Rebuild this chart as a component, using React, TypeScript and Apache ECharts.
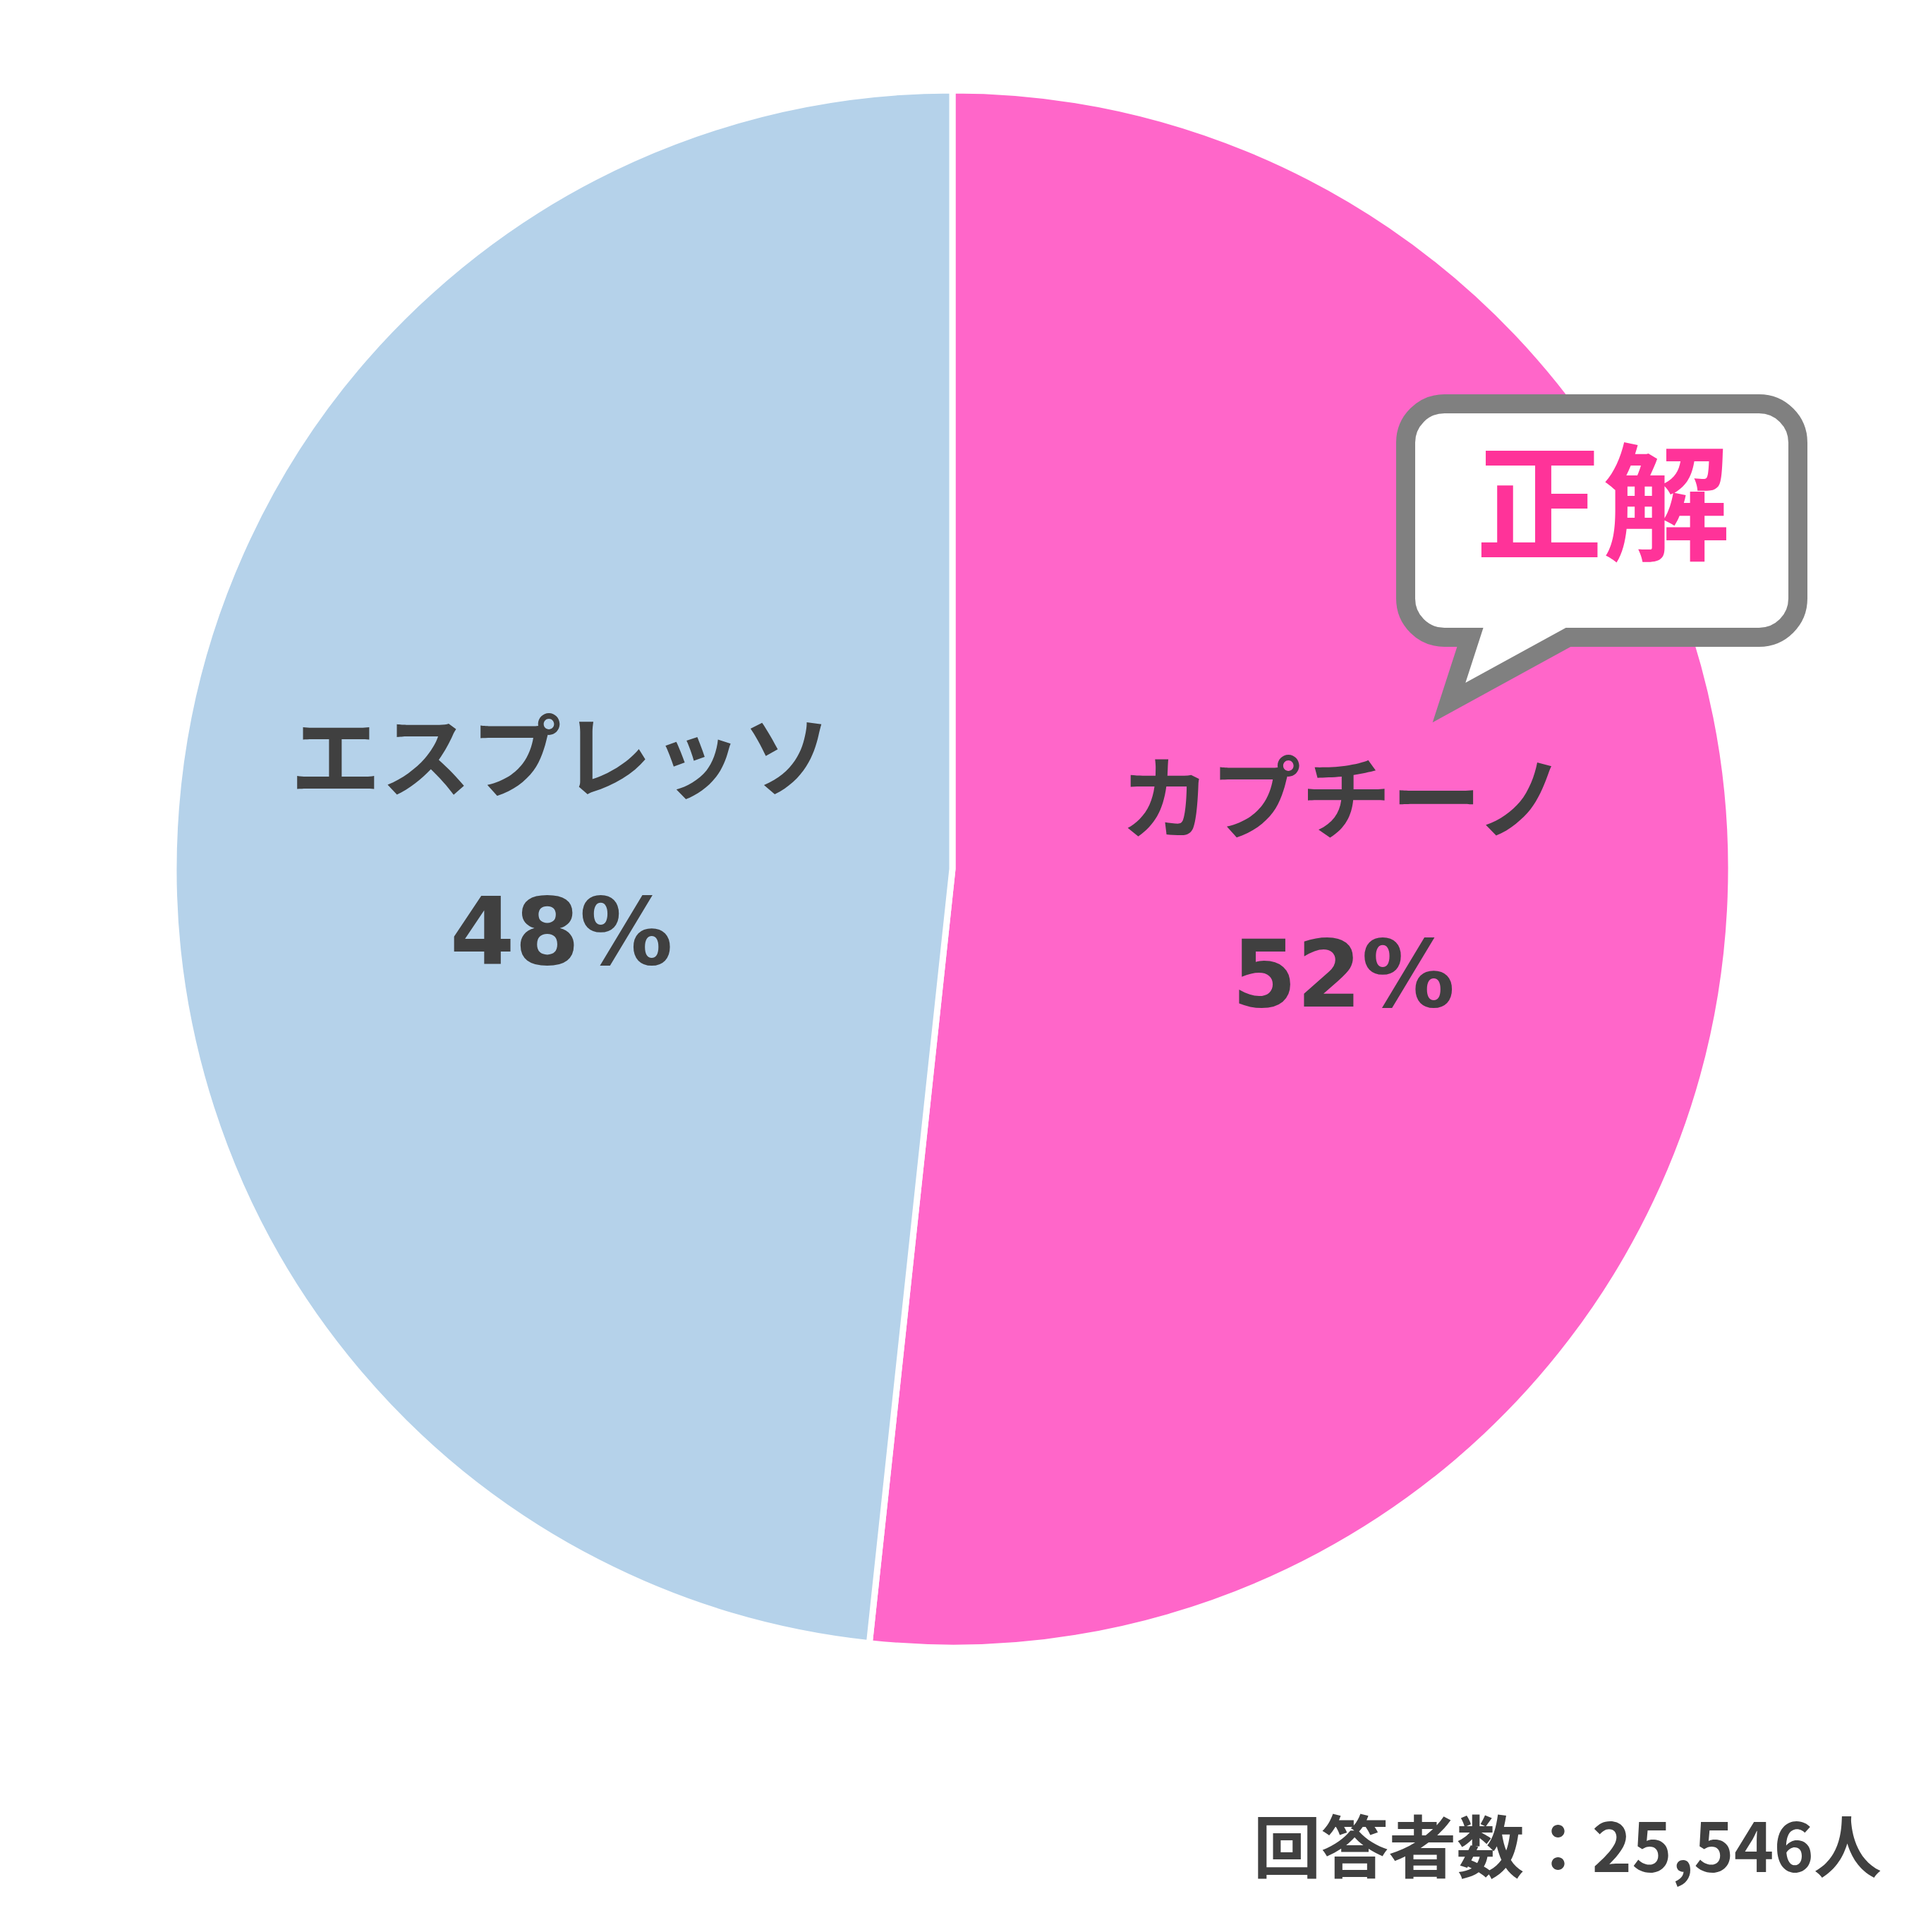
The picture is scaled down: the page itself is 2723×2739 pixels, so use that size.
import React, { useEffect, useRef } from "react";
import * as echarts from "echarts";

const categories = ["カプチーノ", "エスプレッソ"];
const shares = [51.7, 48.3];
const sliceColors = ["#FF66C9", "#B5D2EA"];
const respondents = 25546;
const correctAnswer = "正解";

const BUBBLE_D =
  "M 2047.5 572.5 L 2493.5 572.5 C 2523.9 572.5 2548.5 597.1 2548.5 627.5 " +
  "L 2548.5 848.5 C 2548.5 878.9 2523.9 903.5 2493.5 903.5 " +
  "L 2223 903.5 L 2054 996 L 2084 903.5 L 2047.5 903.5 " +
  "C 2017.1 903.5 1992.5 878.9 1992.5 848.5 L 1992.5 627.5 " +
  "C 1992.5 597.1 2017.1 572.5 2047.5 572.5 Z";

let registered = false;
function ensureShape() {
  if (registered) return;
  echarts.graphic.registerShape("bubble", echarts.graphic.extendPath(BUBBLE_D, {}) as any);
  registered = true;
}

export default function App() {
  const ref = useRef<HTMLDivElement>(null);
  useEffect(() => {
    document.body.style.margin = "0";
    ensureShape();
    if (!ref.current) return;
    const chart = echarts.init(ref.current, undefined, { renderer: "svg" });
    const data = categories.map((name, i) => ({
      name,
      value: shares[i],
      itemStyle: { color: sliceColors[i] },
    }));
    chart.setOption({
      animation: false,
      backgroundColor: "#ffffff",
      series: [
        {
          type: "pie",
          center: [1350, 1232],
          radius: 1104,
          startAngle: 90,
          clockwise: true,
          data,
          itemStyle: { borderColor: "#ffffff", borderWidth: 9 },
          label: {
            show: true,
            position: "inside",
            offset: [0, -9],
            formatter: (p: any) => `{n|${p.name}}\n{p|${Math.round(p.value)}%}`,
            rich: {
              n: {
                fontSize: 128,
                fontWeight: "bold",
                fontFamily: "'Noto Sans CJK JP', sans-serif",
                color: "#404040",
                lineHeight: 256,
              },
              p: {
                fontSize: 132,
                fontWeight: "bold",
                fontFamily: "'DejaVu Sans', sans-serif",
                color: "#404040",
                lineHeight: 256,
              },
            },
          },
          labelLine: { show: false },
          emphasis: { disabled: true },
        },
      ],
      graphic: [
        {
          type: "bubble",
          x: 0,
          y: 0,
          z: 100,
          style: {
            fill: "#ffffff",
            stroke: "#808080",
            lineWidth: 27,
            lineJoin: "miter",
          },
        },
        {
          type: "text",
          x: 2272,
          y: 701,
          z: 101,
          style: {
            text: correctAnswer,
            fontSize: 180,
            fontWeight: "bold",
            fontFamily: "'Noto Sans CJK JP', sans-serif",
            fill: "#FF3399",
            align: "center",
            verticalAlign: "middle",
          },
        },
        {
          type: "text",
          x: 2667,
          y: 2612,
          z: 101,
          style: {
            text: `回答者数：${respondents.toLocaleString("en-US")}人`,
            fontSize: 96,
            fontWeight: "bold",
            fontFamily: "'Noto Sans CJK JP', sans-serif",
            fill: "#404040",
            align: "right",
            verticalAlign: "middle",
          },
        },
      ],
    });
    return () => chart.dispose();
  }, []);
  return (
    <div
      ref={ref}
      style={{ position: "fixed", left: 0, top: 0, width: 2723, height: 2739 }}
    />
  );
}
